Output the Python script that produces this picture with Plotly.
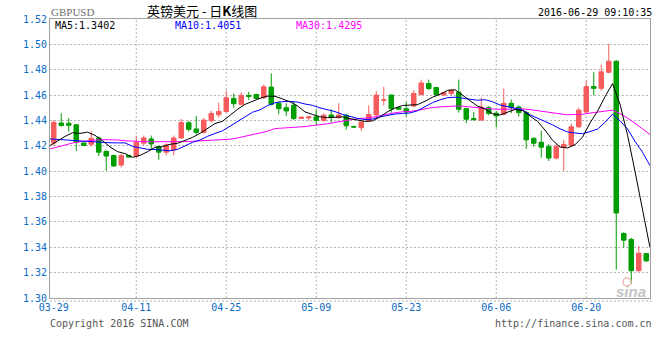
import plotly.graph_objects as go
import pandas as pd

# ---------------- data ----------------
opens = [1.4222, 1.4380, 1.4378, 1.4366, 1.4223, 1.4212, 1.4262, 1.4157, 1.4124, 1.4048,
         1.4124, 1.4119, 1.4221, 1.4254, 1.4194, 1.4150, 1.4168, 1.4262, 1.4382, 1.4333,
         1.4306, 1.4398, 1.4445, 1.4470, 1.4574, 1.4527, 1.4598, 1.4605, 1.4579, 1.4663,
         1.4535, 1.4501, 1.4519, 1.4416, 1.4420, 1.4428, 1.4400, 1.4443, 1.4422, 1.4441,
         1.4352, 1.4343, 1.4397, 1.4444, 1.4558, 1.4600, 1.4501, 1.4493, 1.4514, 1.4605,
         1.4691, 1.4660, 1.4600, 1.4613, 1.4623, 1.4493, 1.4415, 1.4403, 1.4501, 1.4457,
         1.4449, 1.4535, 1.4506, 1.4462, 1.4259, 1.4228, 1.4194, 1.4103, 1.4189, 1.4202,
         1.4350, 1.4467, 1.4667, 1.4653, 1.4780, 1.4867, 1.3509, 1.3462, 1.3215, 1.3350]
highs = [1.4403, 1.4457, 1.4418, 1.4370, 1.4225, 1.4316, 1.4274, 1.4160, 1.4130, 1.4135,
         1.4126, 1.4280, 1.4281, 1.4281, 1.4200, 1.4220, 1.4281, 1.4413, 1.4397, 1.4436,
         1.4418, 1.4475, 1.4540, 1.4636, 1.4612, 1.4623, 1.4625, 1.4610, 1.4683, 1.4771,
         1.4552, 1.4535, 1.4552, 1.4428, 1.4432, 1.4485, 1.4455, 1.4489, 1.4535, 1.4453,
         1.4358, 1.4397, 1.4519, 1.4631, 1.4665, 1.4605, 1.4505, 1.4545, 1.4638, 1.4722,
         1.4722, 1.4662, 1.4622, 1.4644, 1.4722, 1.4501, 1.4467, 1.4579, 1.4514, 1.4475,
         1.4652, 1.4565, 1.4519, 1.4475, 1.4267, 1.4318, 1.4215, 1.4215, 1.4247, 1.4376,
         1.4501, 1.4714, 1.4780, 1.4841, 1.5006, 1.4875, 1.3518, 1.3475, 1.3410, 1.3355]
lows = [1.4200, 1.4352, 1.4312, 1.4160, 1.4198, 1.4193, 1.4119, 1.4004, 1.4035, 1.4030,
        1.4109, 1.4100, 1.4203, 1.4176, 1.4090, 1.4125, 1.4125, 1.4254, 1.4314, 1.4288,
        1.4298, 1.4384, 1.4423, 1.4462, 1.4500, 1.4519, 1.4560, 1.4570, 1.4571, 1.4519,
        1.4448, 1.4436, 1.4404, 1.4414, 1.4400, 1.4360, 1.4390, 1.4383, 1.4415, 1.4327,
        1.4340, 1.4319, 1.4387, 1.4410, 1.4519, 1.4462, 1.4485, 1.4430, 1.4508, 1.4597,
        1.4640, 1.4597, 1.4598, 1.4597, 1.4462, 1.4379, 1.4397, 1.4397, 1.4441, 1.4345,
        1.4441, 1.4457, 1.4430, 1.4176, 1.4194, 1.4106, 1.4080, 1.4092, 1.4002, 1.4194,
        1.4340, 1.4462, 1.4598, 1.4634, 1.4772, 1.3223, 1.3397, 1.3111, 1.3207, 1.3283]
closes = [1.4385, 1.4360, 1.4362, 1.4229, 1.4202, 1.4259, 1.4150, 1.4119, 1.4041, 1.4124,
          1.4111, 1.4228, 1.4262, 1.4215, 1.4150, 1.4207, 1.4262, 1.4384, 1.4330, 1.4306,
          1.4403, 1.4455, 1.4471, 1.4579, 1.4532, 1.4598, 1.4590, 1.4574, 1.4665, 1.4527,
          1.4493, 1.4475, 1.4415, 1.4426, 1.4428, 1.4400, 1.4442, 1.4427, 1.4443, 1.4358,
          1.4348, 1.4387, 1.4447, 1.4600, 1.4562, 1.4493, 1.4488, 1.4467, 1.4613, 1.4696,
          1.4652, 1.4605, 1.4619, 1.4639, 1.4488, 1.4410, 1.4407, 1.4506, 1.4455, 1.4436,
          1.4535, 1.4501, 1.4462, 1.4247, 1.4220, 1.4189, 1.4103, 1.4194, 1.4210, 1.4350,
          1.4482, 1.4667, 1.4653, 1.4784, 1.4867, 1.3670, 1.3456, 1.3215, 1.3353, 1.3293]

# moving-average values before enough visible closes exist,
# starting one session before the first candle
ma5_head = [1.4202, 1.4241, 1.4274, 1.4303, 1.4298]
ma10_head = [1.4254, 1.4250, 1.4246, 1.4241, 1.4236, 1.4232, 1.4229, 1.4226, 1.4224, 1.4223]
ma30_head = [1.4175, 1.4192, 1.4208, 1.4222, 1.4232, 1.4240, 1.4245, 1.4249, 1.4250, 1.4246,
             1.4240, 1.4236, 1.4233, 1.4232, 1.4232, 1.4231, 1.4230, 1.4231, 1.4233, 1.4236,
             1.4240, 1.4242, 1.4243, 1.4246, 1.4252, 1.4262, 1.4275, 1.4290, 1.4303, 1.4315]

tick_labels = ["03-29", "04-11", "04-25", "05-09", "05-23", "06-06", "06-20"]
price_ticks = [1.30, 1.32, 1.34, 1.36, 1.38, 1.40, 1.42, 1.44, 1.46, 1.48, 1.50, 1.52]

ma_legend = ["MA5:1.3402", "MA10:1.4051", "MA30:1.4295"]
title_text = "英镑美元 - 日<b>K</b>线图"
symbol_text = "GBPUSD"
time_text = "2016-06-29 09:10:35"

# ---------------- derived ----------------
n = len(closes)
dates = pd.bdate_range("2016-03-29", periods=n, freq="C",
                       weekmask="Mon Tue Wed Thu Fri Sat").strftime("%m-%d").tolist()
xs = list(range(n))
tickvals = [dates.index(t) for t in tick_labels]

s = pd.Series(closes)
ma5 = ma5_head + s.rolling(5).mean().tolist()[4:]
ma10 = ma10_head + s.rolling(10).mean().tolist()[9:]
ma30 = ma30_head + s.rolling(30).mean().tolist()[29:]
ma_x = [i + 0.5 for i in range(-1, n)]

# ---------------- styling ----------------
W, H = 660, 360
L, R, T, B = 50, 10, 19, 62
PW, PH = W - L - R, H - T - B
RED, GREEN = "#f75c5c", "#009e00"
FRAME, GRID = "#a0a0a0", "#b4b4b4"
BLUE_TXT = "#0b6bc8"
MONO = "DejaVu Sans Mono"


def px_x(px):
    return (px - L) / PW


def px_y(py):
    return (H - B - py) / PH


fig = go.Figure()
fig.add_trace(go.Candlestick(
    x=xs, open=opens, high=highs, low=lows, close=closes,
    increasing=dict(line=dict(color=RED, width=1), fillcolor=RED),
    decreasing=dict(line=dict(color=GREEN, width=1), fillcolor=GREEN),
    whiskerwidth=0, showlegend=False, hoverinfo="skip"))
fig.add_trace(go.Scatter(x=ma_x, y=ma30, mode="lines", line=dict(color="#ff00ff", width=1),
                         showlegend=False, hoverinfo="skip"))
fig.add_trace(go.Scatter(x=ma_x, y=ma10, mode="lines", line=dict(color="#0000ff", width=1),
                         showlegend=False, hoverinfo="skip"))
fig.add_trace(go.Scatter(x=ma_x, y=ma5, mode="lines", line=dict(color="#000000", width=1),
                         showlegend=False, hoverinfo="skip"))

shapes = []
for tv in tickvals[1:]:
    shapes.append(dict(type="line", xref="x", yref="paper", x0=tv, x1=tv, y0=0, y1=1,
                       line=dict(color=GRID, width=1, dash="2px,2px"), layer="below"))
shapes.append(dict(type="line", xref="paper", yref="paper", x0=0, x1=px_x(653),
                   y0=px_y(301), y1=px_y(301), line=dict(color=GRID, width=1, dash="2px,2px")))

annotations = [
    dict(x=px_x(50), y=px_y(12), text=symbol_text, xanchor="left", yanchor="middle",
         font=dict(family="Liberation Serif", size=11, color="#707070")),
    dict(x=px_x(202), y=px_y(10.5), text=title_text, xanchor="center", yanchor="middle",
         font=dict(family="Noto Sans CJK SC", size=13, color="#000000")),
    dict(x=px_x(653), y=px_y(12), text=time_text, xanchor="right", yanchor="middle",
         font=dict(family=MONO, size=10, color="#000000")),
    dict(x=px_x(54), y=px_y(25.5), text=ma_legend[0], xanchor="left", yanchor="middle",
         font=dict(family=MONO, size=10, color="#000000")),
    dict(x=px_x(174), y=px_y(25.5), text=ma_legend[1], xanchor="left", yanchor="middle",
         font=dict(family=MONO, size=10, color="#0000ff")),
    dict(x=px_x(295), y=px_y(25.5), text=ma_legend[2], xanchor="left", yanchor="middle",
         font=dict(family=MONO, size=10, color="#ff00ff")),
    dict(x=px_x(49), y=px_y(323.5), text="Copyright 2016 SINA.COM", xanchor="left",
         yanchor="middle", font=dict(family=MONO, size=10, color="#555555")),
    dict(x=px_x(653), y=px_y(323.5), text="http://finance.sina.com.cn", xanchor="right",
         yanchor="middle", font=dict(family=MONO, size=10, color="#555555")),
    dict(x=px_x(631), y=px_y(291), text="<b><i>sina</i></b>", xanchor="center",
         yanchor="middle", font=dict(family="Liberation Sans", size=15, color="#c4c4c4")),
]
for a in annotations:
    a.update(xref="paper", yref="paper", showarrow=False, borderpad=0)

shapes.append(dict(type="circle", xref="paper", yref="paper",
                   x0=px_x(623), x1=px_x(631), y0=px_y(286), y1=px_y(278),
                   line=dict(color="#f2b6b6", width=1.5)))

fig.update_layout(
    width=W, height=H,
    margin=dict(l=L, r=R, t=T, b=B, pad=0),
    paper_bgcolor="white", plot_bgcolor="white",
    font=dict(family=MONO, size=10, color=BLUE_TXT),
    boxgap=0.25, boxgroupgap=0.2,
    showlegend=False,
    shapes=shapes, annotations=annotations,
    xaxis=dict(range=[-0.5, n - 0.5], showgrid=False, zeroline=False,
               showline=True, mirror=True, linecolor=FRAME, linewidth=1,
               tickmode="array", tickvals=tickvals, ticktext=tick_labels,
               ticks="", tickfont=dict(family=MONO, size=10, color=BLUE_TXT),
               rangeslider=dict(visible=False), fixedrange=True),
    yaxis=dict(range=[price_ticks[0], price_ticks[-1]], tickmode="array",
               tickvals=price_ticks, tickformat=".2f",
               showgrid=True, gridcolor=GRID, griddash="2px,2px", gridwidth=1,
               zeroline=False, showline=True, mirror=True, linecolor=FRAME, linewidth=1,
               ticks="", tickfont=dict(family=MONO, size=10, color=BLUE_TXT),
               fixedrange=True),
)

fig.write_html("out.html", config={"displayModeBar": False},
               post_script="document.body.style.margin='0';")
